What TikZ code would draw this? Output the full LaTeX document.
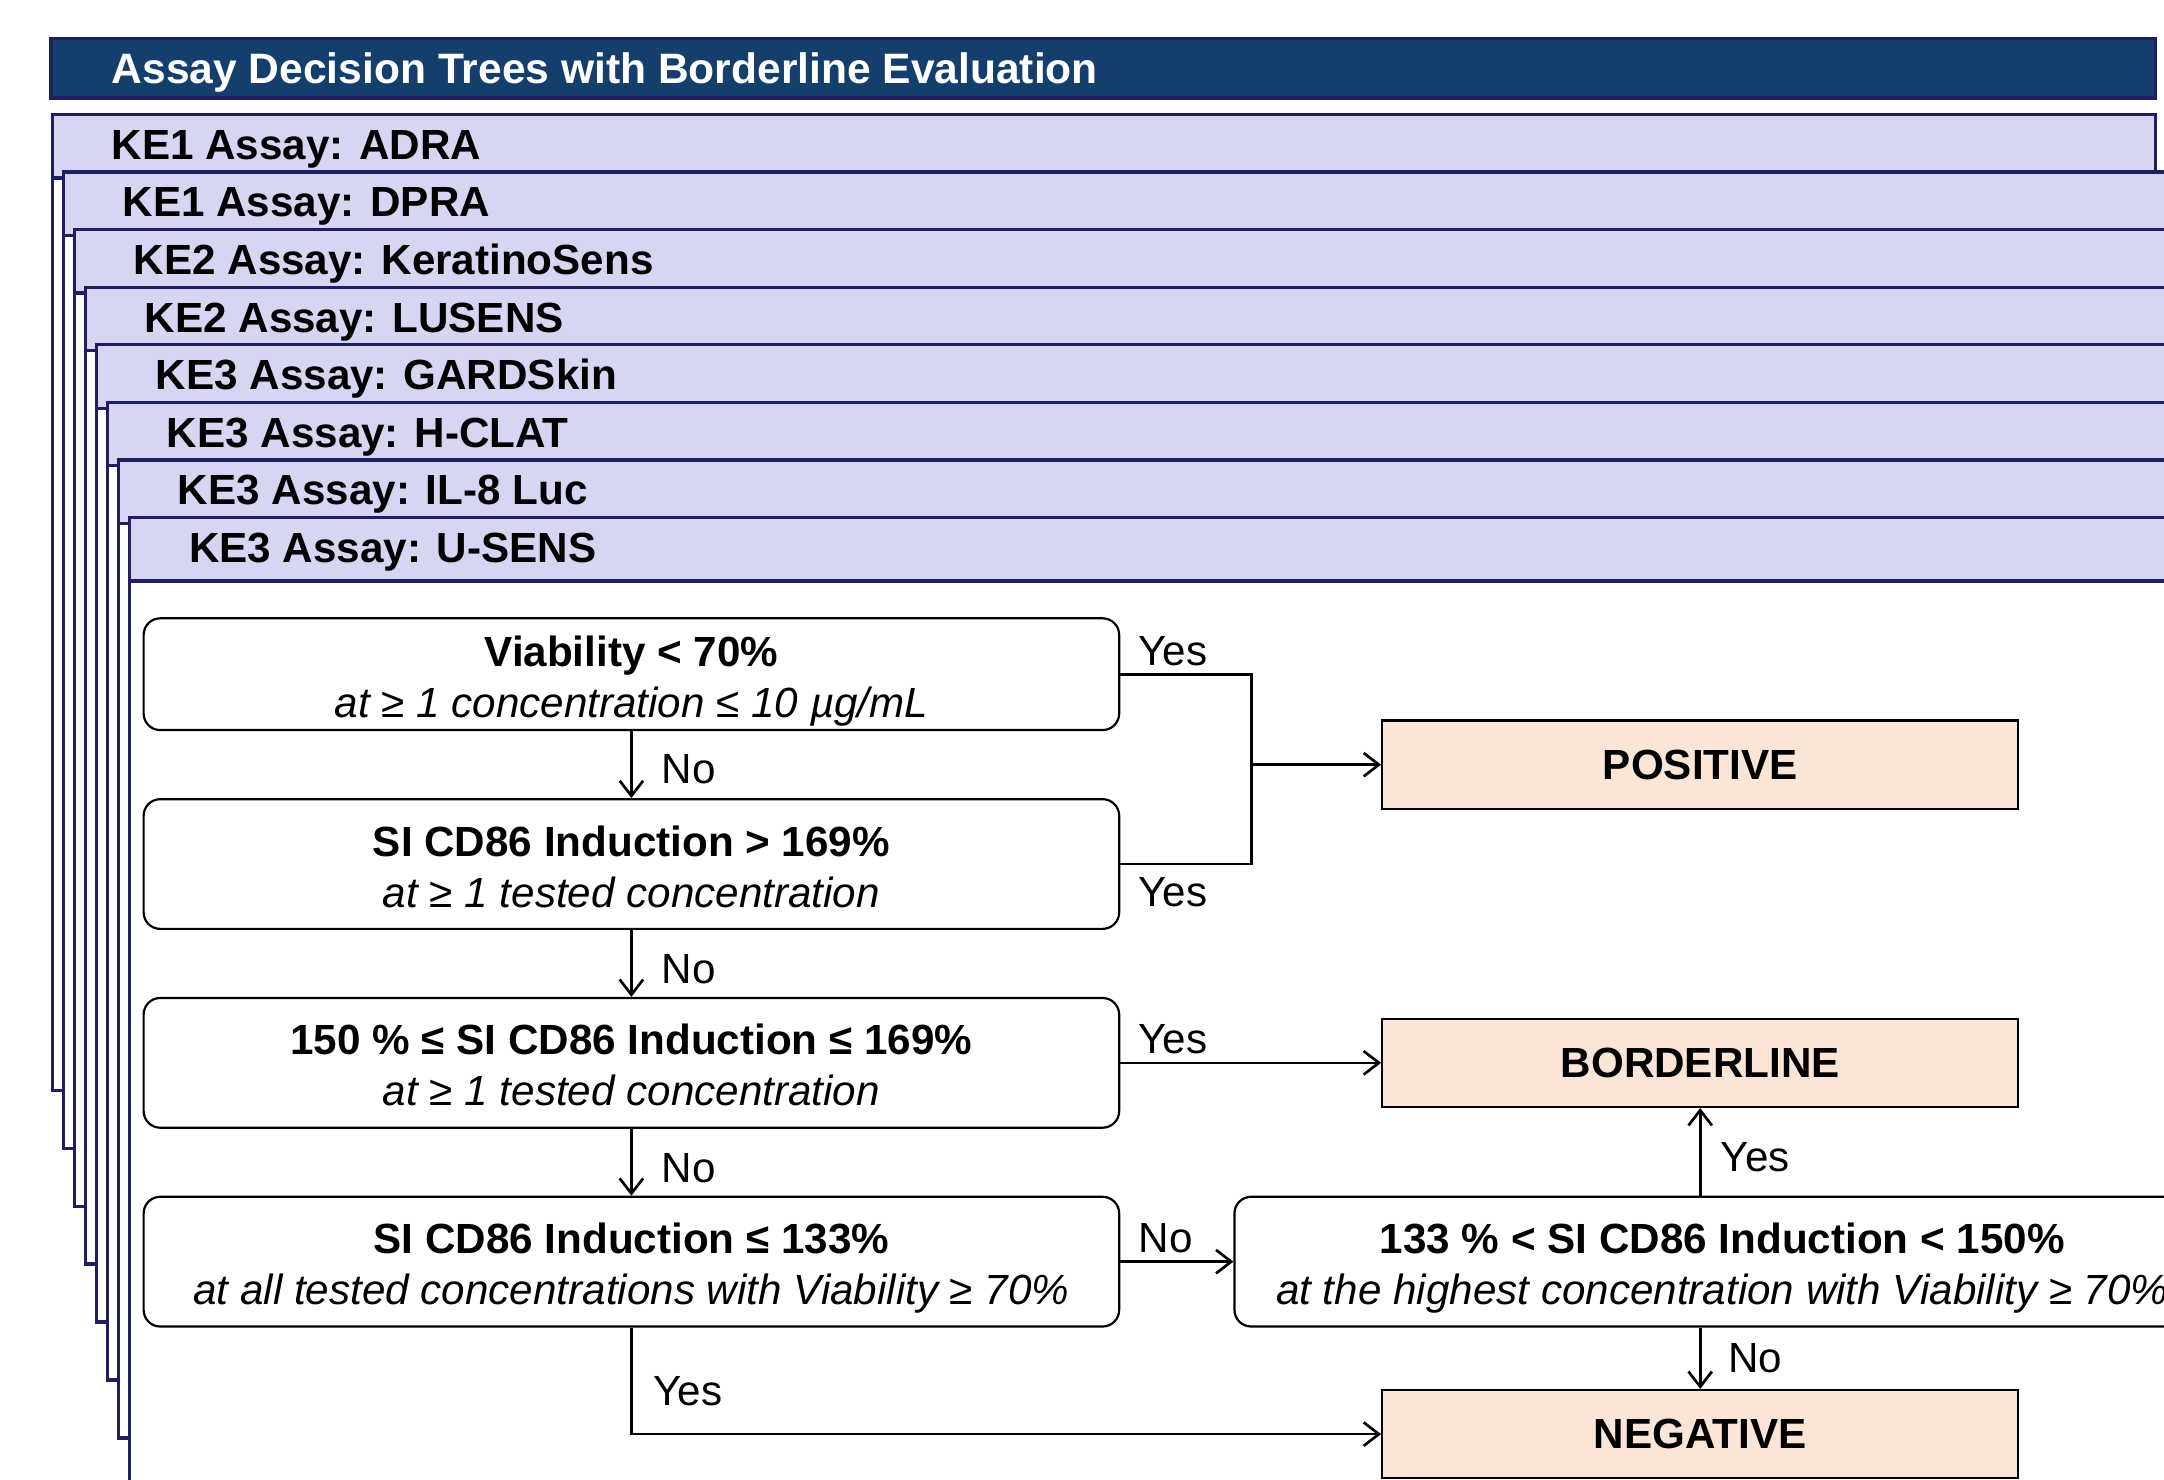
\documentclass[tikz,border=0pt]{standalone}
\usepackage{fontspec}
\setmainfont{Liberation Sans}
\usetikzlibrary{positioning,arrows.meta}

\definecolor{titleblue}{RGB}{20,62,107}
\definecolor{navy}{RGB}{30,30,100}
\definecolor{lavender}{RGB}{214,214,243}
\definecolor{peach}{RGB}{251,229,214}
\newcommand{\bigfont}{\fontsize{17.4}{21}\selectfont}
\newcommand{\testtext}[2]{\textbf{\rule{0pt}{14.5pt}#1}\\\smash{\textit{#2}}}

\begin{document}
\begin{tikzpicture}[x=0.02cm,y=-0.02cm,->,>={Straight Barb[length=2.2mm,width=3.4mm]},line width=1.1pt,node distance=0.97cm,font=\bigfont]
\tikzstyle{test}=[draw,line width=0.9pt,rounded corners=0.24cm,fill=white,minimum width=14.14cm,minimum height=1.88cm,align=center,inner sep=0pt]
\tikzstyle{result}=[draw,line width=0.9pt,fill=peach,minimum width=9.22cm,minimum height=1.28cm,font=\bigfont\bfseries]
\tikzstyle{card}=[-,draw=navy,line width=1.4pt]
\tikzstyle{cardtext}=[anchor=west,inner sep=0pt,text height=12.5pt,text depth=0pt,font=\bigfont\bfseries]
\tikzstyle{lbl}=[inner sep=3pt]
\useasboundingbox (0,0) rectangle (1568,1072);
\clip (0,0) rectangle (1568,1072);

% title bar
\draw[card,fill=titleblue] (37,28) rectangle (1562,71);
\node[cardtext,text=white,font=\fontsize{17.55}{21}\selectfont\bfseries] (title) at (80,49.5) {Assay Decision Trees with Borderline Evaluation};

% stacked assay cards
\foreach \lbl [count=\i from 0] in {KE1 Assay: ADRA,KE1 Assay: DPRA,KE2 Assay: KeratinoSens,KE2 Assay: LUSENS,KE3 Assay: GARDSkin,KE3 Assay: H-CLAT,KE3 Assay: IL-8 Luc,KE3 Assay: U-SENS}{
  \draw[card,fill=white] (38+8*\i,83+41.7*\i) rectangle (1562+8*\i,790+42*\i);
  \draw[card,fill=lavender] (38+8*\i,83+41.7*\i) rectangle (1562+8*\i,129+41.7*\i);
  \node[cardtext] (ke\i) at (80+8*\i,104.5+41.7*\i) {\lbl};
}

% decision boxes
\node[test,minimum height=1.62cm] (via) at (457.5,488.5) {\testtext{Viability < 70\%}{at ≥ 1 concentration ≤ 10 µg/mL}};
\node[test,below=of via] (hi) {\testtext{SI CD86 Induction > 169\%}{at ≥ 1 tested concentration}};
\node[test,below=of hi] (mid) {\testtext{150 \% ≤ SI CD86 Induction ≤ 169\%}{at ≥ 1 tested concentration}};
\node[test,below=of mid] (lo) {\testtext{SI CD86 Induction ≤ 133\%}{at all tested concentrations with Viability ≥ 70\%}};
\node[test,right=1.64cm of lo] (grey) {\testtext{133 \% < SI CD86 Induction < 150\%}{at the highest concentration with Viability ≥ 70\%}};

% outcomes
\node[result,right=3.78cm of mid] (bord) {BORDERLINE};
\node[result,above=3.01cm of bord] (pos) {POSITIVE};
\node[result,below=4.07cm of bord] (neg) {NEGATIVE};

% connectors
\draw (via) -- node[lbl,right=9pt,yshift=-2pt]{No} (hi);
\draw (hi) -- node[lbl,right=9pt,yshift=-2.2pt]{No} (mid);
\draw (mid) -- node[lbl,right=9pt,yshift=-2.4pt]{No} (lo);
\coordinate[right=1.9cm of via.east] (jn);
\draw[-] (via.east) -- node[lbl,pos=0,above right,xshift=4pt]{Yes} (jn) -- (jn |- hi.east) -- node[lbl,pos=1,below right,xshift=4pt,yshift=-2pt]{Yes} (hi.east);
\draw (jn |- pos.west) -- (pos.west);
\draw (mid) -- node[lbl,pos=0,above right,xshift=4pt]{Yes} (bord);
\draw (lo) -- node[lbl,pos=0,above right,xshift=4pt]{No} (grey);
\draw (grey.north -| bord.south) -- node[lbl,right=5pt,yshift=-2pt]{Yes} (bord.south);
\draw (grey.south -| neg.north) -- node[lbl,right=8pt]{No} (neg.north);
\draw (lo.south) |- node[lbl,pos=0.3,right=5.5pt]{Yes} (neg.west);
\end{tikzpicture}
\end{document}
